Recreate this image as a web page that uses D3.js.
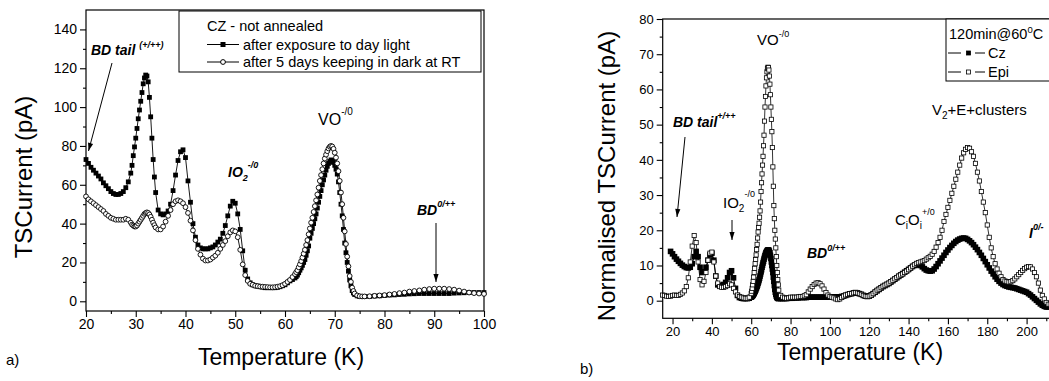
<!DOCTYPE html>
<html><head><meta charset="utf-8">
<script src="https://cdn.jsdelivr.net/npm/d3@7"></script>
<style>body{margin:0;background:#fff}svg{display:block}</style>
</head><body><svg id="c" width="1049" height="381"></svg>
<script>
// ---------- Panel a) data ----------
const tempA = [20,20.5,21,21.5,22,22.5,23,23.5,24,24.5,25,25.5,26,26.5,27,27.5,28,28.5,
29,29.25,29.5,29.75,30,30.25,30.5,30.75,31,31.25,31.5,31.75,32,32.25,32.5,32.75,33,33.25,33.5,33.75,34,
34.5,35,35.5,36,36.5,37,37.5,38,38.5,39,39.5,40,40.5,41,41.5,42,42.5,43,43.5,44,44.5,45,45.5,46,46.5,47,47.5,48,48.5,49,49.5,50,50.5,51,51.5,52,52.5,53,53.5,54,54.5,55,55.5,56,56.5,57,57.5,58,58.5,59,59.5,60,60.5,61,61.5,
62,62.25,62.5,62.75,63,63.25,63.5,63.75,64,64.25,64.5,64.75,65,65.25,65.5,65.75,66,66.25,66.5,66.75,67,67.25,67.5,67.75,68,68.25,68.5,68.75,69,69.25,69.5,69.75,70,70.25,70.5,70.75,71,71.25,71.5,71.75,72,72.25,72.5,72.75,73,73.25,73.5,73.75,74,
74.5,75,75.5,76,
77,78,79,80,81,82,83,84,85,86,87,88,89,90,91,92,93,94,95,96,97,98,99,100];
const dayLight = [73,71,69,67.5,66,64.5,63,61,59.5,58,56.5,55.5,55,55,55.5,56.5,58.5,61.5,
66,70,75,79.5,84,89,94,98.5,103,107.5,112,115,116.5,116,113,105,95,84,73,64,56,
47,45,44.5,45,46.5,50,57,65,72.5,77,78,74,62,51,40,33,29,27.5,27,27,27,27.5,28,29,30.5,32,35,39,44,49,51.5,50.5,45,37,26,16,11.5,9.5,8.5,8,7.8,7.5,7.3,7,7,7,7,7,7.2,7.5,8,8.5,9.5,10.5,11.2,
12,12.7,13.5,14.7,16,17.2,18.5,20,21.5,23.7,26,28.5,32.5,35,37.5,40,42.5,45,48,51,54,57,60,62.5,65,67.5,69.5,71,72,72.8,72.5,71.5,70,68,65.5,61.5,56,50,44,37,30,25,20,15.5,11,8,5.5,4.3,3.5,
2.8,2.5,2.5,2.5,
2.5,2.7,2.8,3,3.2,3.3,3.5,3.6,3.8,3.9,4,4,4,4,4,4,4,4.2,4.3,4.4,4.5,4.5,4.5,4.5];
const darkRT = [54,52.5,51.5,50.5,49.5,48.5,47.5,46.5,45,44,43,42.5,42,42,42,42,42.5,42,
40.5,39.5,39,38.5,38.5,39,40,41,42,43,44,45,45.5,45.8,45.5,44.7,43.5,42,40.5,39.2,38,
37,37,38.5,41,44,47,50,51.5,52,51.5,50.5,48.5,45.5,41.5,36.5,31.5,27,24,22,21,21,21.5,22.5,23.5,25,27,29,31,33.5,35.5,36.5,36,33,26.5,19,13.5,10.5,9,8.5,8,7.8,7.6,7.5,7.4,7.3,7.2,7.2,7.3,7.5,7.8,8.3,9,10,11,12.5,
14,15,16,17.5,19,20.7,22.5,24.5,26.5,29,31.5,34.5,37.5,40.5,43,46,49,52,55,58.5,62,65,68,71,73.5,75.5,77.3,78.7,79.6,80,79.7,78.5,76.5,74,71,67,62,56,50,43,36,29.5,23,18,13,10,7,5.3,4,
3,2.6,2.5,2.5,
2.6,2.8,3,3.2,3.5,3.8,4.2,4.5,5,5.3,5.6,6,6.3,6.5,6.5,6.5,6.3,6,5.5,5,4.5,4.2,4,3.8];
const xTicksA = [20,30,40,50,60,70,80,90,100];
const yTicksA = [0,20,40,60,80,100,120,140];

// ---------- Panel b) data ----------
const tempB = [15,16,17,18,19,20,21,22,23,24,25,26,27,28,29,30,31,32,33,34,35,36,37,38,39,40,41,42,43,44,45,46,47,48,49,50,51,52,53,54,55,56,57,58,59,60,
60.25,60.5,60.75,61,61.25,61.5,61.75,62,62.25,62.5,62.75,63,63.25,63.5,63.75,64,64.25,64.5,64.75,65,65.25,65.5,65.75,66,66.25,66.5,66.75,67,67.25,67.5,67.75,68,68.25,68.5,68.75,69,69.25,69.5,69.75,70,70.25,70.5,70.75,71,71.25,71.5,71.75,72,72.25,72.5,72.75,73,73.25,73.5,73.75,
74,75,76,77,78,79,80,81,82,83,84,85,86,87,88,89,90,91,92,93,94,95,96,97,98,99,100,101,102,103,104,105,106,107,108,109,110,111,112,113,114,115,116,117,118,119,120,121,122,123,124,125,126,127,128,129,130,131,132,133,134,135,136,137,138,139,140,141,142,143,144,145,146,147,148,149,150,151,152,153,154,155,156,157,158,159,160,161,162,163,164,165,166,167,168,169,170,171,172,173,174,175,176,177,178,179,180,181,182,183,184,185,186,187,188,189,190,191,192,193,194,195,196,197,198,199,200,201,202,203,204,205,206,207,208,209,210,211,212];
const cz = [null,null,null,null,14,13.3,12.5,11.8,11.2,10.6,
10.1,9.7,9.4,9.3,9.5,10.5,12.5,14,12.5,9.5,
8,8.2,9.5,11.5,13,13.5,11.5,7,4.5,4.2,
4.3,4.6,5.2,6.5,8,8.5,6.5,3.5,1.5,0.9,
0.7,0.6,0.6,0.6,0.7,1,
1.15,1.3,1.45,1.6,1.85,2.1,2.4,2.7,3,3.4,3.7,4.1,4.5,5,5.4,5.9,6.4,7,7.6,8.2,8.8,9.5,10.1,10.7,11.2,11.8,12.3,12.8,13.2,13.6,13.9,14.1,14.3,14.4,14.4,14.3,14,13.6,12.9,12,11,10,9,8,6.7,5.5,4.3,3.2,2.4,1.8,1.3,1,0.8,0.7,0.65,
0.6,0.6,0.6,0.6,0.6,0.7,0.7,0.7,0.8,0.8,
0.8,0.9,0.9,0.9,0.9,1,1,1,1,1,
1,1,1,1,1,1,1,1.1,1.1,1.1,
1.1,1.1,1.2,1.3,1.5,1.7,1.9,2,2.2,2.3,
2.2,2,1.8,1.5,1.3,1.2,1.3,1.6,2,2.4,
2.8,3.2,3.6,4,4.3,4.6,4.9,5.3,5.7,6.1,
6.5,6.9,7.3,7.7,8.1,8.5,8.9,9.3,9.7,10,
10.2,10.2,10,9.6,9.1,8.7,8.5,8.4,8.5,9,
9.7,10.5,11.3,12.1,12.9,13.7,14.4,15.1,15.7,16.3,
16.8,17.2,17.5,17.7,17.8,17.7,17.4,17,16.5,15.9,
15.2,14.5,13.7,12.9,12,11.1,10.2,9.3,8.4,7.6,
6.8,6.1,5.5,5,4.6,4.3,4.1,3.9,3.8,3.7,
3.6,3.4,3.2,3,2.8,2.6,2.4,2,1.6,1.1,
0.6,0.1,-0.4,-0.9,-1.3,-1.6,-1.8,-1.8,-1.6];
const epi = [1.6,1.5,1.3,1.2,1.3,1.5,1.6,1.5,1.5,1.8,
2.2,2.8,4,6.5,11,15.5,18.5,16.5,11,6,
4.5,5.5,8,11.5,13.5,13.8,11,7,5,4,
3.8,3.8,4,4.3,4.8,4.5,3.5,2.5,1.6,1.2,
1,0.8,0.7,0.7,1,2,
2.7,3.5,4.5,5.5,6.7,8,9.2,10.5,11.7,13,14.5,16,17.8,19.5,20.8,22,23.7,25.5,28,31,33.5,36,38.5,41,44,47,51,55,58,61,63.3,65,66,66.3,66.2,65.5,63.8,61.5,58.5,55,51.5,48,43.5,38,32.5,27,23.3,20,17.5,15,12.5,10,8,6,4.5,
3,1.5,1,0.8,0.7,0.8,1,1,1,1,
1.1,1.2,1.2,1.4,1.7,2.5,3.3,4,4.6,5,
5.1,4.8,4.2,3.3,2.3,1.6,1.2,1,0.8,0.5,
0.3,0.5,0.9,1.3,1.6,1.8,2,2,2.2,2.3,
2.2,2,1.8,1.5,1.3,1.2,1.3,1.6,2,2.5,
3,3.3,3.7,4.1,4.4,4.7,5,5.4,5.8,6.2,
6.6,7,7.3,7.6,8,8.4,8.8,9.3,9.8,10.2,
10.6,10.8,11,11.2,11.4,11.8,12.2,12.6,13.2,14,
15.2,16.5,18,20,22.5,24.5,26.5,28.5,30.5,32.5,
34.5,36.5,38.5,40.5,42,43,43.5,43.3,42.3,41,
39,36.5,34,31,28,25,21.5,18,15,12.5,
10.5,9,7.8,6.8,6,5.6,5.4,5.3,5.4,5.7,
6.2,6.8,7.4,8,8.6,9.1,9.5,9.7,9.6,9,
8,6.8,5,3,1.5,0.5,-0.5,-1,-1];
const xTicksB = [20,40,60,80,100,120,140,160,180,200];
const yTicksB = [0,10,20,30,40,50,60,70,80];

const FONT = '"Liberation Sans", Arial, Helvetica, sans-serif';
const svg = d3.select("#c");
svg.append("rect").attr("width",1049).attr("height",381).attr("fill","#fff");

function styleAxis(g, size){
  g.select(".domain").remove();
  g.selectAll("line").attr("stroke","#000").attr("stroke-width",1.1);
  g.selectAll("text").attr("font-family",FONT).attr("font-size",size).attr("fill","#000");
}
function rich(x, y, parts, opts){
  const t = svg.append("text").attr("x",x).attr("y",y).attr("font-family",FONT).attr("fill","#000");
  if(opts && opts.bold) t.attr("font-weight","bold");
  if(opts && opts.italic) t.attr("font-style","italic");
  let cur = 0;
  parts.forEach(p=>{
    const s = p.shift||0;
    t.append("tspan").attr("dy", s-cur).attr("font-size",p.size).text(p.t);
    cur = s;
  });
  return t;
}
function arrow(x1,y1,x2,y2){
  svg.append("line").attr("x1",x1).attr("y1",y1).attr("x2",x2).attr("y2",y2).attr("stroke","#000").attr("stroke-width",1);
  const a = Math.atan2(y2-y1,x2-x1), L=8, W=2.6;
  const bx = x2 - L*Math.cos(a), by = y2 - L*Math.sin(a);
  const px = -Math.sin(a)*W, py = Math.cos(a)*W;
  svg.append("path").attr("d",`M${x2},${y2}L${bx+px},${by+py}L${bx-px},${by-py}Z`).attr("fill","#000");
}

// ================= Panel a =================
const xA = d3.scaleLinear([20,100],[86,484]);
const yA = d3.scaleLinear([-5,150],[311,10]);
const gA = svg.append("g");
gA.append("g").attr("transform","translate(0,311)")
  .call(d3.axisBottom(xA).tickValues(xTicksA).tickSize(6).tickPadding(2).tickFormat(d3.format("d"))).call(styleAxis,14);
gA.append("g").attr("transform","translate(0,311)")
  .call(d3.axisBottom(xA).tickValues(xTicksA.slice(0,-1).map(v=>v+5)).tickSize(3).tickFormat("")).call(styleAxis,14);
gA.append("g").attr("transform","translate(86,0)")
  .call(d3.axisLeft(yA).tickValues(yTicksA).tickSize(6).tickPadding(3).tickFormat(d3.format("d"))).call(styleAxis,14);
gA.append("g").attr("transform","translate(86,0)")
  .call(d3.axisLeft(yA).tickValues(yTicksA.slice(0,-1).map(v=>v+10)).tickSize(3).tickFormat("")).call(styleAxis,14);
gA.append("rect").attr("x",86).attr("y",10).attr("width",398).attr("height",301)
  .attr("fill","none").attr("stroke","#000").attr("stroke-width",1.2);

const ptsDay = tempA.map((t,i)=>({t, v: dayLight[i]}));
const ptsDark = tempA.map((t,i)=>({t, v: darkRT[i]}));
const lineA = d3.line().x(d=>xA(d.t)).y(d=>yA(d.v));
gA.append("path").attr("d",lineA(ptsDay)).attr("fill","none").attr("stroke","#000").attr("stroke-width",0.9);
gA.selectAll(".sq").data(ptsDay).join("rect").attr("class","sq")
  .attr("x",d=>xA(d.t)-2.4).attr("y",d=>yA(d.v)-2.4).attr("width",4.8).attr("height",4.8).attr("fill","#000");
gA.append("path").attr("d",lineA(ptsDark)).attr("fill","none").attr("stroke","#000").attr("stroke-width",0.9);
gA.selectAll(".ci").data(ptsDark).join("circle").attr("class","ci")
  .attr("cx",d=>xA(d.t)).attr("cy",d=>yA(d.v)).attr("r",2.4).attr("fill","#fff").attr("stroke","#000").attr("stroke-width",0.9);

// legend a
svg.append("rect").attr("x",179).attr("y",11).attr("width",302).attr("height",61).attr("fill","#fff").attr("stroke","#000").attr("stroke-width",1);
svg.append("text").attr("x",207).attr("y",31).attr("font-family",FONT).attr("font-size",14.5).text("CZ - not annealed");
svg.append("line").attr("x1",207).attr("x2",239).attr("y1",44.5).attr("y2",44.5).attr("stroke","#000");
svg.append("rect").attr("x",223-2.5).attr("y",44.5-2.5).attr("width",5).attr("height",5).attr("fill","#000");
svg.append("text").attr("x",243).attr("y",49.5).attr("font-family",FONT).attr("font-size",14.5).text("after exposure to day light");
svg.append("line").attr("x1",207).attr("x2",239).attr("y1",62).attr("y2",62).attr("stroke","#000");
svg.append("circle").attr("cx",223).attr("cy",62).attr("r",2.4).attr("fill","#fff").attr("stroke","#000");
svg.append("text").attr("x",243).attr("y",67).attr("font-family",FONT).attr("font-size",14.5).text("after 5 days keeping in dark at RT");

// titles a
svg.append("text").attr("transform","translate(32,177) rotate(-90)").attr("text-anchor","middle")
  .attr("font-family",FONT).attr("font-size",24).text("TSCurrent (pA)");
svg.append("text").attr("x",281).attr("y",365).attr("text-anchor","middle")
  .attr("font-family",FONT).attr("font-size",23).text("Temperature (K)");
svg.append("text").attr("x",6).attr("y",365).attr("font-family",FONT).attr("font-size",15).text("a)");

// annotations a
rich(91,55,[{t:"BD tail ",size:14},{t:"(+/++)",size:9,shift:-7}],{bold:true,italic:true});
arrow(112,63,88.5,151);
rich(228,176.5,[{t:"IO",size:14},{t:"2",size:9,shift:4},{t:"-/0",size:9,shift:-9}],{bold:true,italic:true});
rich(318,125,[{t:"VO",size:16},{t:"-/0",size:10,shift:-10}]);
rich(417,215,[{t:"BD",size:14},{t:"0/++",size:9,shift:-8}],{bold:true,italic:true});
arrow(436,223,436,282);

// ================= Panel b =================
const xB = d3.scaleLinear([15,215],[662.7,1056.1]);
const yB = d3.scaleLinear([-5,80],[318.3,19]);
const gB = svg.append("g");
gB.append("g").attr("transform","translate(0,318.3)")
  .call(d3.axisBottom(xB).tickValues(xTicksB).tickSize(6).tickPadding(2).tickFormat(d3.format("d"))).call(styleAxis,13);
gB.append("g").attr("transform","translate(0,318.3)")
  .call(d3.axisBottom(xB).tickValues(xTicksB.map(v=>v+10)).tickSize(3).tickFormat("")).call(styleAxis,13);
gB.append("g").attr("transform","translate(662.7,0)")
  .call(d3.axisLeft(yB).tickValues(yTicksB).tickSize(6).tickPadding(3).tickFormat(d3.format("d"))).call(styleAxis,13);
gB.append("g").attr("transform","translate(662.7,0)")
  .call(d3.axisLeft(yB).tickValues(yTicksB.slice(0,-1).map(v=>v+5)).tickSize(3).tickFormat("")).call(styleAxis,13);
gB.append("rect").attr("x",662.7).attr("y",19).attr("width",393.4).attr("height",299.3)
  .attr("fill","none").attr("stroke","#000").attr("stroke-width",1.2);

const ptsCz = tempB.map((t,i)=>({t, v: cz[i]})).filter(d=>d.v!==null);
const ptsEpi = tempB.map((t,i)=>({t, v: epi[i]}));
const lineB = d3.line().x(d=>xB(d.t)).y(d=>yB(d.v));
gB.append("path").attr("d",lineB(ptsCz)).attr("fill","none").attr("stroke","#000").attr("stroke-width",1);
gB.selectAll(".cz").data(ptsCz).join("rect").attr("class","cz")
  .attr("x",d=>xB(d.t)-2.8).attr("y",d=>yB(d.v)-2.8).attr("width",5.6).attr("height",5.6).attr("fill","#000");
gB.append("path").attr("d",lineB(ptsEpi)).attr("fill","none").attr("stroke","#000").attr("stroke-width",0.8);
gB.selectAll(".ep").data(ptsEpi).join("rect").attr("class","ep")
  .attr("x",d=>xB(d.t)-2.1).attr("y",d=>yB(d.v)-2.1).attr("width",4.2).attr("height",4.2)
  .attr("fill","#fff").attr("stroke","#000").attr("stroke-width",0.8);

// legend b
svg.append("rect").attr("x",946).attr("y",19).attr("width",120).attr("height",62).attr("fill","#fff").attr("stroke","#000").attr("stroke-width",1);
rich(949,39,[{t:"120min@60",size:14.5},{t:"0",size:9.5,shift:-6},{t:"C",size:14.5,shift:0}]);
[[53,true,"Cz",58],[72,false,"Epi",77]].forEach(([y,fill,label,base])=>{
  svg.append("line").attr("x1",948).attr("x2",961).attr("y1",y).attr("y2",y).attr("stroke","#000");
  svg.append("line").attr("x1",975).attr("x2",985).attr("y1",y).attr("y2",y).attr("stroke","#000");
  svg.append("rect").attr("x",966.5).attr("y",y-2).attr("width",4).attr("height",4)
    .attr("fill",fill?"#000":"#fff").attr("stroke","#000").attr("stroke-width",0.8);
  svg.append("text").attr("x",988).attr("y",base).attr("font-family",FONT).attr("font-size",14.5).text(label);
});

// titles b
svg.append("text").attr("transform","translate(615,176) rotate(-90)").attr("text-anchor","middle")
  .attr("font-family",FONT).attr("font-size",24).text("Normalised TSCurrent (pA)");
svg.append("text").attr("x",860).attr("y",360).attr("text-anchor","middle")
  .attr("font-family",FONT).attr("font-size",23).text("Temperature (K)");
svg.append("text").attr("x",580).attr("y",374).attr("font-family",FONT).attr("font-size",15).text("b)");

// annotations b
rich(757,45,[{t:"VO",size:15},{t:"-/0",size:9,shift:-8}]);
rich(673,126.5,[{t:"BD tail",size:14},{t:"+/++",size:9,shift:-8}],{bold:true,italic:true});
arrow(685,137,677,217);
rich(723,208,[{t:"IO",size:15},{t:"2",size:10,shift:4},{t:"-/0",size:9,shift:-11}]);
arrow(732,220,732,240);
rich(807,258,[{t:"BD",size:14},{t:"0/++",size:9,shift:-7}],{bold:true,italic:true});
rich(895,225,[{t:"C",size:15},{t:"i",size:10,shift:4},{t:"O",size:15,shift:0},{t:"i",size:10,shift:4},{t:"+/0",size:9,shift:-10}]);
rich(932,115,[{t:"V",size:15},{t:"2",size:10,shift:4},{t:"+E+clusters",size:15,shift:0}]);
rich(1029,238,[{t:"I",size:14},{t:"0/-",size:9,shift:-8}],{bold:true,italic:true});
</script></body></html>
